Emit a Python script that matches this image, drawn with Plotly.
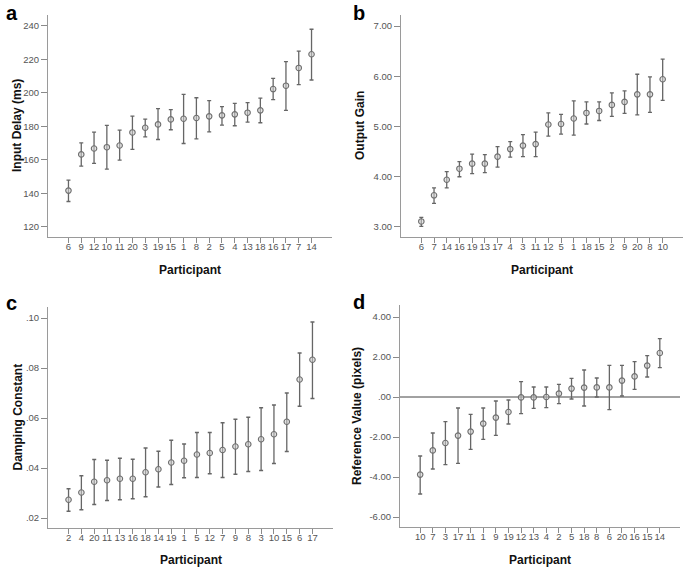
import plotly.graph_objects as go

# Panel a: Input Delay (ms)
a_labels = ["6","9","12","10","11","20","3","19","15","1","8","2","5","4","13","18","16","17","7","14"]
a_mean = [141.7,163.3,166.8,167.6,168.6,176.4,179.2,181.2,184.2,184.6,185.0,186.0,186.6,187.2,188.2,189.6,202.3,204.3,214.9,223.1]
a_upper = [147.9,170.2,176.6,180.6,177.8,186.2,184.4,190.6,190.0,199.1,197.1,195.4,191.8,193.8,194.2,196.9,208.7,218.7,224.9,238.0]
a_lower = [135.2,156.3,157.9,154.5,159.9,166.3,173.8,172.2,178.0,169.8,172.6,176.8,180.8,180.4,182.6,182.2,196.0,189.6,204.9,207.7]

# Panel b: Output Gain
b_labels = ["6","7","14","16","19","13","17","4","3","11","12","5","1","18","15","2","9","20","8","10"]
b_mean = [3.11,3.63,3.94,4.16,4.26,4.26,4.40,4.55,4.62,4.65,5.04,5.05,5.16,5.27,5.31,5.43,5.49,5.64,5.64,5.94]
b_upper = [3.19,3.78,4.10,4.30,4.45,4.44,4.60,4.70,4.84,4.89,5.27,5.24,5.51,5.49,5.49,5.67,5.71,6.04,5.99,6.34]
b_lower = [3.01,3.47,3.78,4.00,4.06,4.08,4.19,4.39,4.40,4.40,4.81,4.85,4.83,5.05,5.12,5.20,5.26,5.23,5.28,5.52]

# Panel c: Damping Constant
c_labels = ["2","4","20","11","13","16","18","14","19","1","5","12","7","9","8","3","10","15","6","17"]
c_mean = [0.0273,0.0302,0.0345,0.0351,0.0357,0.0357,0.0383,0.0395,0.0422,0.0429,0.0454,0.0460,0.0472,0.0486,0.0495,0.0515,0.0535,0.0585,0.0754,0.0833]
c_upper = [0.0317,0.0369,0.0434,0.0431,0.0439,0.0435,0.0480,0.0467,0.0511,0.0496,0.0542,0.0542,0.0581,0.0595,0.0603,0.0641,0.0652,0.0700,0.0860,0.0984]
c_lower = [0.0227,0.0233,0.0254,0.0270,0.0273,0.0277,0.0285,0.0324,0.0334,0.0361,0.0362,0.0377,0.0362,0.0375,0.0386,0.0390,0.0418,0.0466,0.0647,0.0678]

# Panel d: Reference Value (pixels)
d_labels = ["10","7","3","17","11","1","9","19","12","13","4","2","5","18","8","6","20","16","15","14"]
d_mean = [-3.88,-2.67,-2.30,-1.93,-1.73,-1.33,-1.03,-0.75,-0.02,-0.02,0.00,0.17,0.42,0.47,0.48,0.48,0.82,1.03,1.57,2.20]
d_upper = [-2.95,-1.80,-1.23,-0.55,-0.87,-0.55,-0.20,-0.15,0.77,0.50,0.50,0.63,0.93,1.35,0.95,1.58,1.58,1.77,2.07,2.92]
d_lower = [-4.85,-3.60,-3.38,-3.32,-2.62,-2.12,-1.92,-1.35,-0.83,-0.57,-0.53,-0.33,-0.10,-0.45,0.00,-0.63,0.05,0.38,1.00,1.47]

a_ticks = [120,140,160,180,200,220,240]
b_ticks = [3,4,5,6,7]
c_ticks = [0.02,0.04,0.06,0.08,0.10]
d_ticks = [-6,-4,-2,0,2,4]

W, H = 685, 568
FONT = "Arial, Liberation Sans, sans-serif"

panels = [
    dict(labels=a_labels, mean=a_mean, up=a_upper, lo=a_lower, ticks=a_ticks,
         ticktext=[str(t) for t in a_ticks], yrange=[114, 246.5],
         px=(48, 332), py=(15, 237), ytitle="Input Delay (ms)", letter="a", lpos=(4, 0), ytx=17, tty=270),
    dict(labels=b_labels, mean=b_mean, up=b_upper, lo=b_lower, ticks=b_ticks,
         ticktext=["%.2f" % t for t in b_ticks], yrange=[2.8, 7.22],
         px=(401, 683), py=(15, 237), ytitle="Output Gain", letter="b", lpos=(351, 0), ytx=360, tty=270),
    dict(labels=c_labels, mean=c_mean, up=c_upper, lo=c_lower, ticks=c_ticks,
         ticktext=[("%.2f" % t)[1:] for t in c_ticks], yrange=[0.016, 0.1044],
         px=(48, 333), py=(307, 528), ytitle="Damping Constant", letter="c", lpos=(4, 290), ytx=17, tty=560),
    dict(labels=d_labels, mean=d_mean, up=d_upper, lo=d_lower, ticks=d_ticks,
         ticktext=[("%.2f" % t).replace("0.00", ".00") for t in d_ticks], yrange=[-6.5, 4.6],
         px=(400, 680), py=(305, 527), ytitle="Reference Value (pixels)", letter="d", lpos=(351, 289), ytx=357, tty=560),
]

fig = go.Figure()
annotations = []
shapes = []
for i, p in enumerate(panels, start=1):
    xs = list(range(len(p["labels"])))
    err_plus = [u - m for u, m in zip(p["up"], p["mean"])]
    err_minus = [m - l for m, l in zip(p["mean"], p["lo"])]
    xa = "x" if i == 1 else f"x{i}"
    ya = "y" if i == 1 else f"y{i}"
    fig.add_trace(go.Scatter(
        x=xs, y=p["mean"], mode="markers", xaxis=xa, yaxis=ya, showlegend=False,
        marker=dict(symbol="circle", size=5.5, color="rgba(205,205,205,0.55)", line=dict(color="#6e6e6e", width=1.1)),
        error_y=dict(type="data", symmetric=False, array=err_plus, arrayminus=err_minus,
                     color="#666666", thickness=1.3, width=2),
    ))
    xd = [p["px"][0] / W, p["px"][1] / W]
    yd = [1 - p["py"][1] / H, 1 - p["py"][0] / H]
    axkey = "xaxis" if i == 1 else f"xaxis{i}"
    aykey = "yaxis" if i == 1 else f"yaxis{i}"
    fig.update_layout(**{
        axkey: dict(domain=xd, anchor=ya, range=[-1.6, 20.6], tickmode="array", tickvals=xs,
                    ticktext=p["labels"], tickangle=0, showgrid=False, zeroline=False, showline=True,
                    linecolor="#9a9a9a", linewidth=1, ticks="outside", ticklen=5, tickcolor="#8a8a8a",
                    ticklabelstandoff=-4,
                    tickfont=dict(family=FONT, size=9.5, color="#555555"), fixedrange=True),
        aykey: dict(domain=yd, anchor=xa, range=p["yrange"], tickmode="array", tickvals=p["ticks"],
                    ticktext=p["ticktext"], showgrid=False, zeroline=False, showline=True,
                    linecolor="#9a9a9a", linewidth=1, ticks="outside", ticklen=6, tickcolor="#8a8a8a",
                    tickfont=dict(family=FONT, size=9.5, color="#555555"), fixedrange=True),
    })
    # x axis title
    annotations.append(dict(text="<b>Participant</b>", xref="paper", yref="paper",
                            x=(p["px"][0] + p["px"][1]) / 2 / W, y=1 - p["tty"] / H,
                            showarrow=False, font=dict(family=FONT, size=12, color="#111111"),
                            xanchor="center", yanchor="middle"))
    # y axis title
    annotations.append(dict(text="<b>%s</b>" % p["ytitle"], xref="paper", yref="paper",
                            x=p["ytx"] / W, y=1 - (p["py"][0] + p["py"][1]) / 2 / H, textangle=-90,
                            showarrow=False, font=dict(family=FONT, size=12, color="#111111"),
                            xanchor="center", yanchor="middle"))
    # panel letter
    annotations.append(dict(text="<b>%s</b>" % p["letter"], xref="paper", yref="paper",
                            x=p["lpos"][0] / W, y=1 - p["lpos"][1] / H, showarrow=False,
                            font=dict(family=FONT, size=20, color="#000000"),
                            xanchor="left", yanchor="top"))

# zero reference line in panel d
shapes.append(dict(type="line", xref="x4 domain", yref="y4", x0=0, x1=1, y0=0, y1=0,
                   line=dict(color="#444444", width=1), layer="below"))

fig.update_layout(width=W, height=H, margin=dict(l=0, r=0, t=0, b=0),
                  paper_bgcolor="white", plot_bgcolor="white",
                  annotations=annotations, shapes=shapes,
                  font=dict(family=FONT))

fig.write_html("out.html", config={"displayModeBar": False},
               post_script="document.body.style.margin='0px';document.body.style.overflow='hidden';")
